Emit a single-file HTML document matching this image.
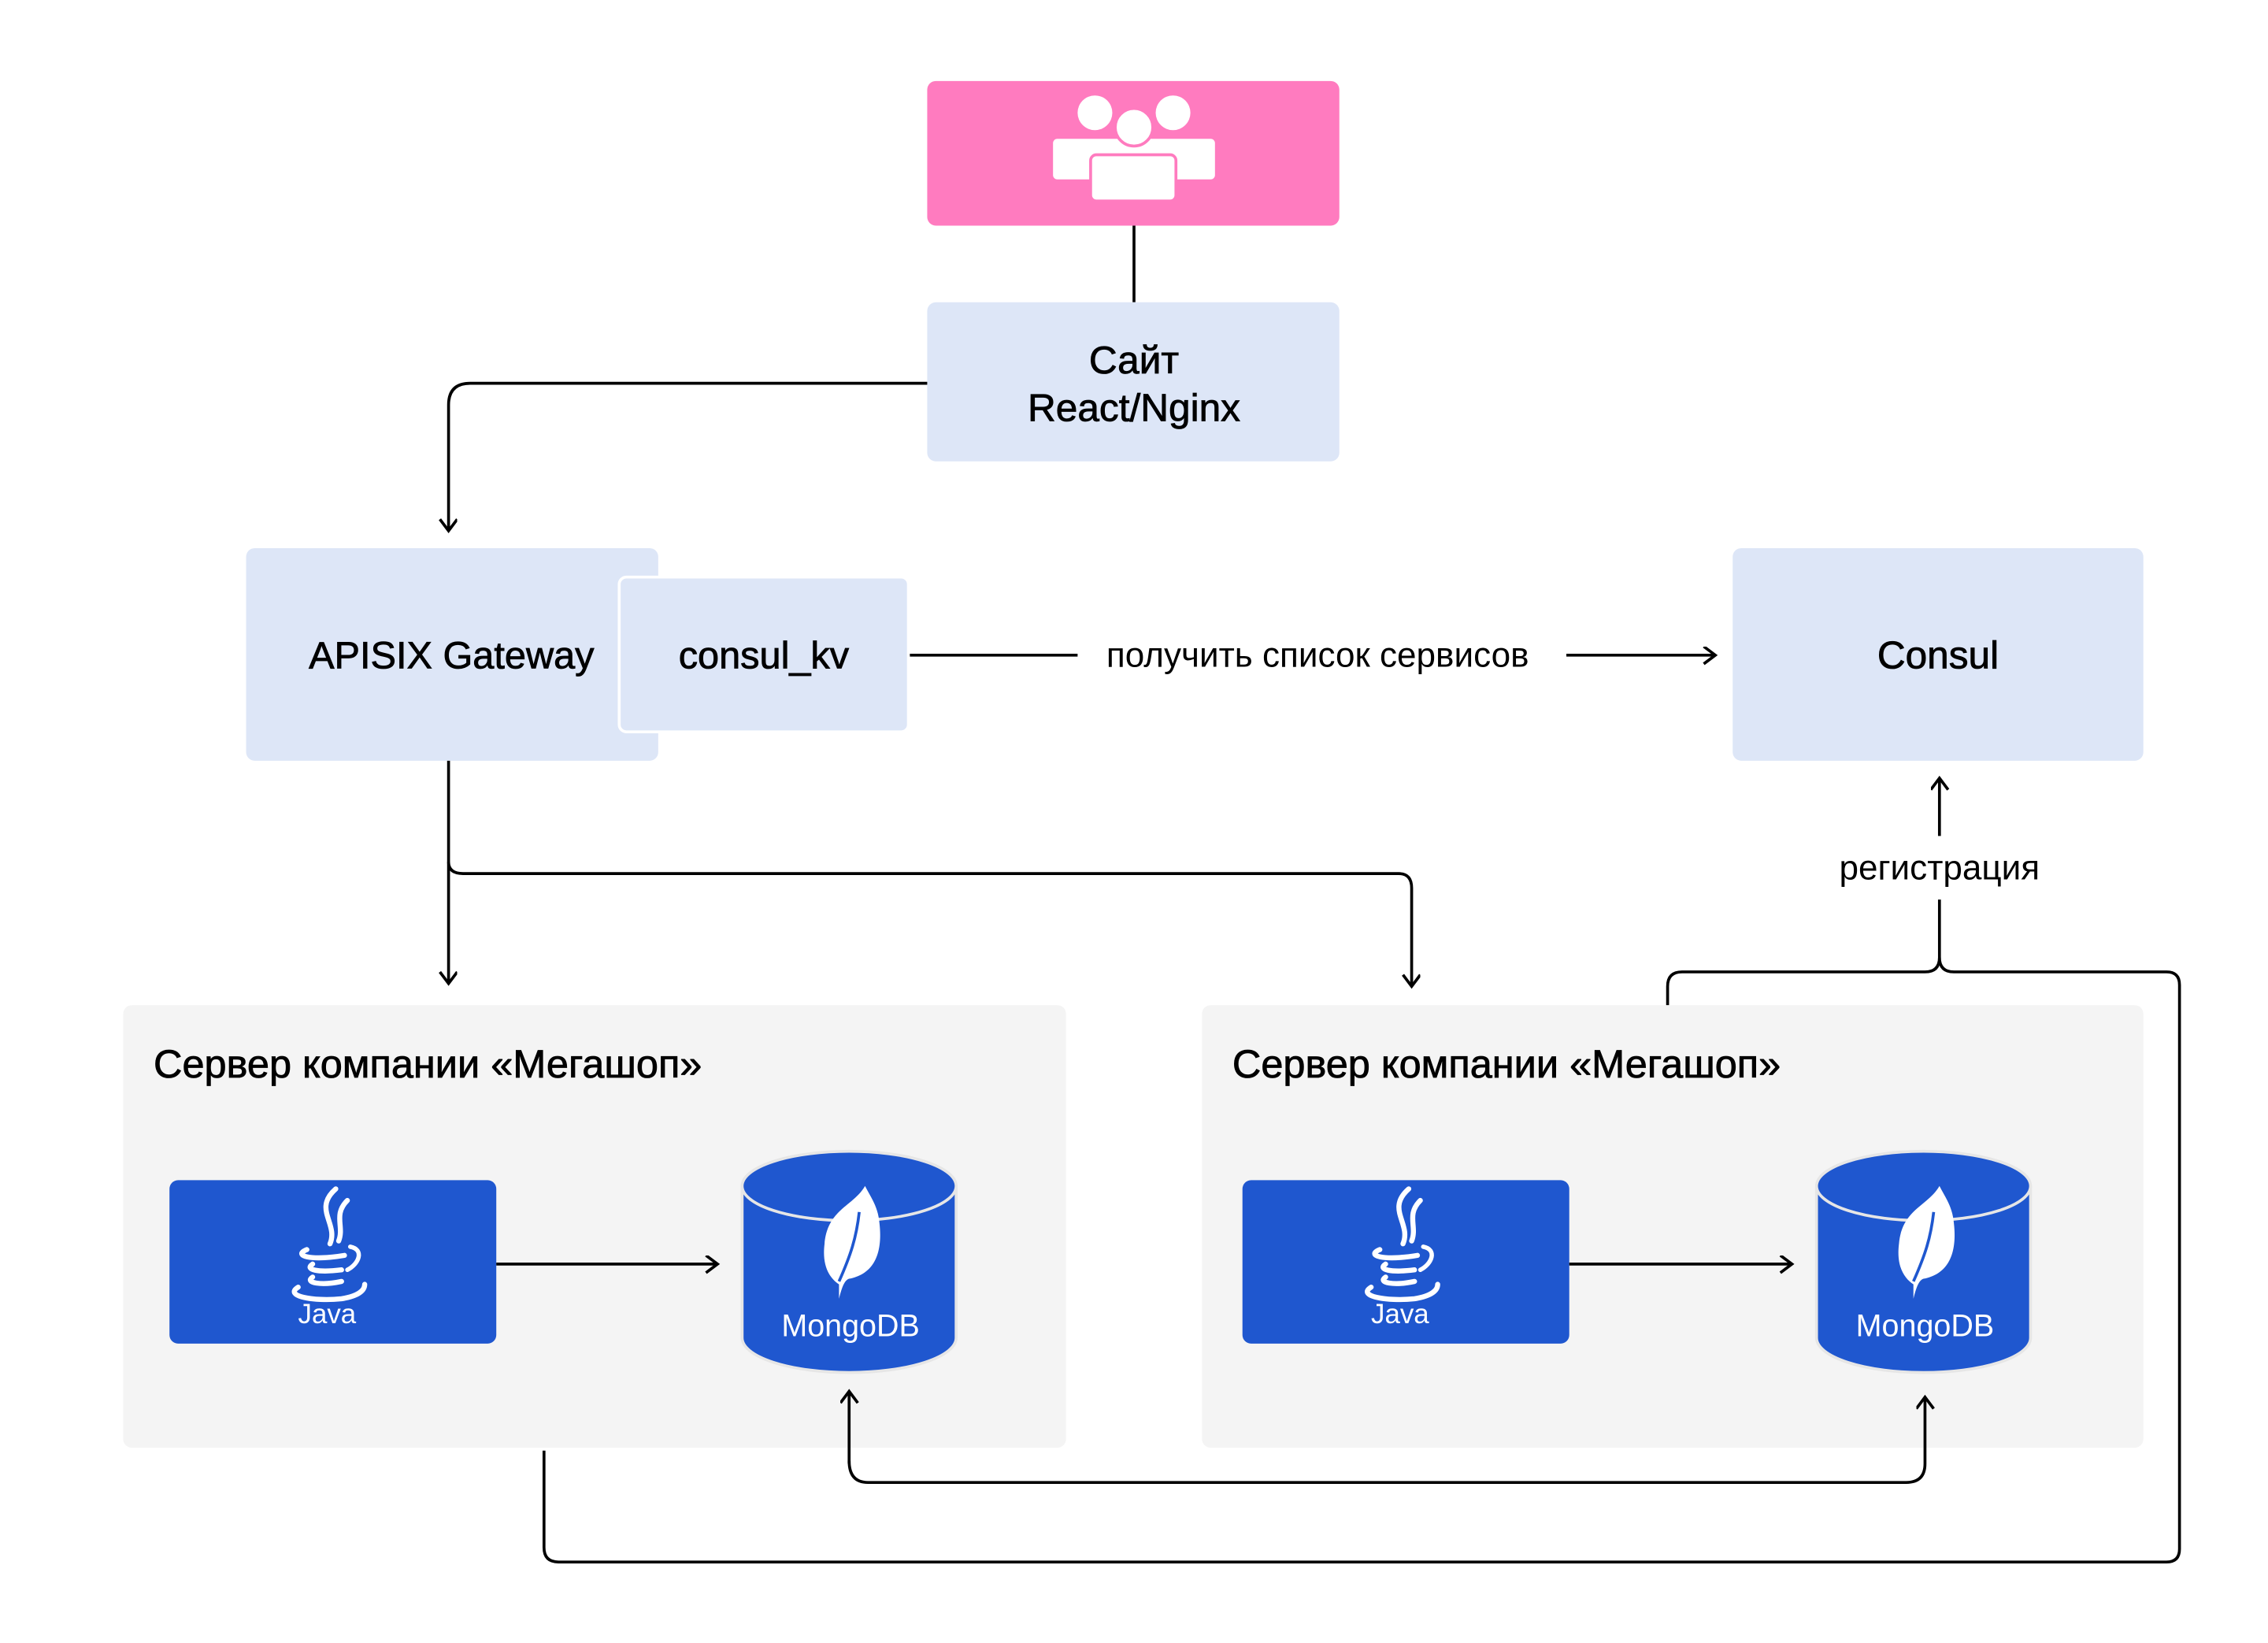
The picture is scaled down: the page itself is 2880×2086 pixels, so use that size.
<!DOCTYPE html>
<html><head><meta charset="utf-8"><style>
html,body{margin:0;padding:0;background:#fff;}
svg{display:block;}
text{font-family:"Liberation Sans","DejaVu Sans",sans-serif;}
.m{stroke:#000;stroke-width:0.45;}
</style></head><body>
<svg width="2880" height="2086" viewBox="0 0 1568 1136" xmlns="http://www.w3.org/2000/svg">
<defs>
<marker id="a" markerWidth="14" markerHeight="14" refX="10" refY="6" orient="auto" markerUnits="userSpaceOnUse">
<path d="M2,0 L10,6 L2,12" fill="none" stroke="#000" stroke-width="2"/>
</marker>
<g id="java">
<path d="M6,-48 C-10,-34 8,-24 2,-10 M14,-40 C4,-30 12,-22 8,-12" fill="none" stroke="#fff" stroke-width="3.5" stroke-linecap="round"/>
<path d="M-14,-6 C-24,-2 -12,2 12,-2 M-10,4 C-16,8 -6,10 10,8 M-10,13 C-16,17 -4,19 10,16 M-20,20 C-30,26 -10,30 10,28 C22,26 26,22 26,18" fill="none" stroke="#fff" stroke-width="3.5" stroke-linecap="round"/>
<path d="M16,-8 C26,-6 22,4 14,8" fill="none" stroke="#fff" stroke-width="3" stroke-linecap="round"/>
</g>
<g id="mongo">
<path d="M0,-40 C-8,-26 -26,-24 -28,0 C-30,16 -24,24 -18,28 L-18,38 C-16,30 -14,24 -10,24 C8,20 12,4 10,-14 C9,-26 4,-32 0,-40 Z" fill="#fff"/>
<path d="M-4,-22 C-6,-4 -10,8 -18,26" fill="none" stroke="#1f57cf" stroke-width="2"/>
</g>
</defs>

<rect x="641" y="56" width="285" height="100" rx="6" fill="#ff7bbf"/>
<circle cx="757" cy="78" r="12" fill="#fff"/>
<circle cx="811" cy="78" r="12" fill="#fff"/>
<rect x="728" y="96" width="112" height="28" rx="3" fill="#fff"/>
<circle cx="784" cy="88" r="13" fill="#fff" stroke="#ff7bbf" stroke-width="2"/>
<rect x="754" y="107" width="59" height="32" rx="4" fill="#fff" stroke="#ff7bbf" stroke-width="2"/>
<line x1="784" y1="156" x2="784" y2="209" stroke="#000" stroke-width="2"/>

<rect x="641" y="209" width="285" height="110" rx="6" fill="#dde6f7"/>
<text class="m" x="784" y="258" font-size="27" text-anchor="middle">Сайт</text>
<text class="m" x="784" y="291" font-size="27" text-anchor="middle">React/Nginx</text>
<path d="M641,265 H325 Q310,265 310,280 V367" fill="none" stroke="#000" stroke-width="2" marker-end="url(#a)"/>

<rect x="170" y="379" width="285" height="147" rx="6" fill="#dde6f7"/>
<text class="m" x="312" y="462" font-size="26.5" text-anchor="middle">APISIX Gateway</text>
<rect x="428" y="399" width="200" height="107" rx="5" fill="#dde6f7" stroke="#fff" stroke-width="2"/>
<text class="m" x="528" y="462" font-size="26.5" text-anchor="middle">consul_kv</text>

<line x1="629" y1="453" x2="745" y2="453" stroke="#000" stroke-width="2"/>
<text x="911" y="461" font-size="24" text-anchor="middle">получить список сервисов</text>
<line x1="1083" y1="453" x2="1186" y2="453" stroke="#000" stroke-width="2" marker-end="url(#a)"/>

<rect x="1198" y="379" width="284" height="147" rx="6" fill="#dde6f7"/>
<text class="m" x="1340" y="462" font-size="27" text-anchor="middle">Consul</text>

<line x1="1341" y1="578" x2="1341" y2="538" stroke="#000" stroke-width="2" marker-end="url(#a)"/>
<text x="1341" y="608" font-size="24" text-anchor="middle">регистрация</text>
<path d="M1341,622 V662 Q1341,672 1331,672 H1163 Q1153,672 1153,682 V695" fill="none" stroke="#000" stroke-width="2"/>
<path d="M1341,662 Q1341,672 1351,672 H1498 Q1507,672 1507,681 V1071 Q1507,1080 1498,1080 H386 Q376,1080 376,1070 V1003" fill="none" stroke="#000" stroke-width="2"/>

<line x1="310" y1="526" x2="310" y2="680" stroke="#000" stroke-width="2" marker-end="url(#a)"/>
<path d="M310,596 Q310,604 320,604 H967 Q976,604 976,614 V682" fill="none" stroke="#000" stroke-width="2" marker-end="url(#a)"/>

<rect x="85" y="695" width="652" height="306" rx="6" fill="#f4f4f4"/>
<rect x="831" y="695" width="651" height="306" rx="6" fill="#f4f4f4"/>
<text class="m" x="106" y="745" font-size="27.5">Сервер компании «Мегашоп»</text>
<text class="m" x="852" y="745" font-size="27.5">Сервер компании «Мегашоп»</text>

<rect x="117" y="816" width="226" height="113" rx="6" fill="#1f57cf"/>
<use href="#java" x="226" y="870"/>
<text x="226" y="915" font-size="19" fill="#fff" text-anchor="middle">Java</text>
<rect x="859" y="816" width="226" height="113" rx="6" fill="#1f57cf"/>
<use href="#java" x="968" y="870"/>
<text x="968" y="915" font-size="19" fill="#fff" text-anchor="middle">Java</text>

<line x1="343" y1="874" x2="496" y2="874" stroke="#000" stroke-width="2" marker-end="url(#a)"/>
<line x1="1085" y1="874" x2="1239" y2="874" stroke="#000" stroke-width="2" marker-end="url(#a)"/>

<g>
<path d="M513,820 V925 A74,24 0 0 0 661,925 V820" fill="#1f57cf" stroke="#e6e6e6" stroke-width="2"/>
<ellipse cx="587" cy="820" rx="74" ry="24" fill="#1f57cf" stroke="#e6e6e6" stroke-width="2"/>
<use href="#mongo" x="598" y="860"/>
<text x="588" y="924" font-size="21.5" fill="#fff" text-anchor="middle">MongoDB</text>
</g>
<g>
<path d="M1256,820 V925 A74,24 0 0 0 1404,925 V820" fill="#1f57cf" stroke="#e6e6e6" stroke-width="2"/>
<ellipse cx="1330" cy="820" rx="74" ry="24" fill="#1f57cf" stroke="#e6e6e6" stroke-width="2"/>
<use href="#mongo" x="1341" y="860"/>
<text x="1331" y="924" font-size="21.5" fill="#fff" text-anchor="middle">MongoDB</text>
</g>

<path d="M587,1010 Q587,1025 600,1025 H1318 Q1331,1025 1331,1012 V966" fill="none" stroke="#000" stroke-width="2" marker-end="url(#a)"/>
<line x1="587" y1="1012" x2="587" y2="962" stroke="#000" stroke-width="2" marker-end="url(#a)"/>
</svg>
</body></html>
